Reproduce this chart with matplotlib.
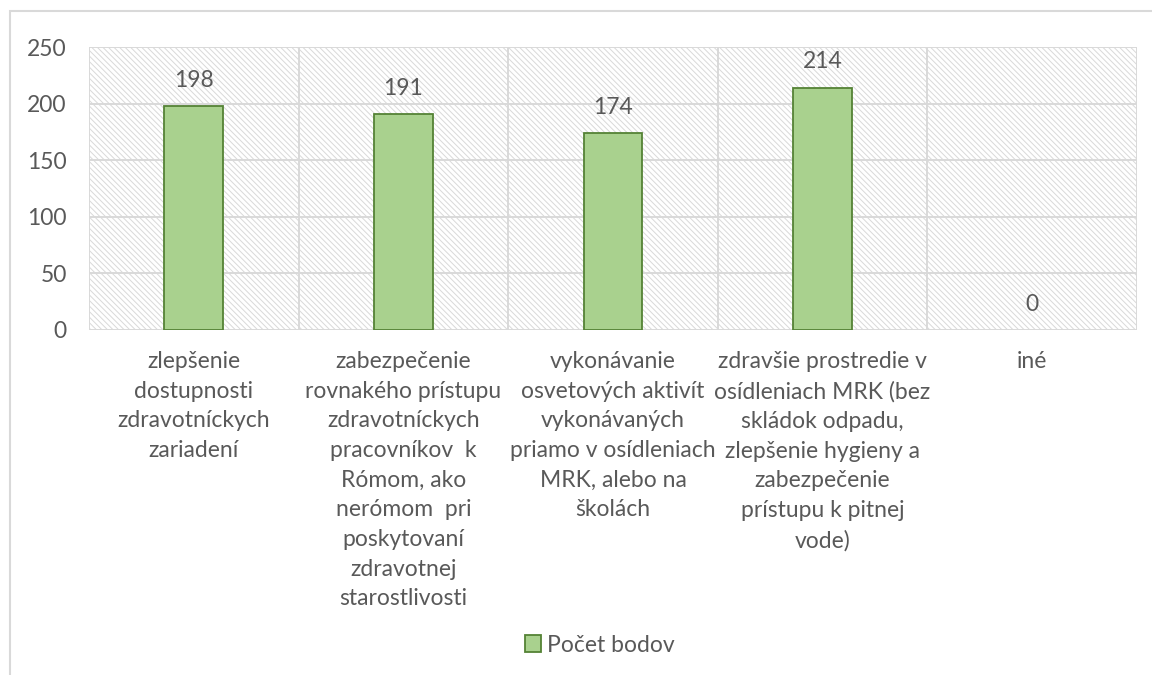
import matplotlib
matplotlib.use("Agg")
import matplotlib.pyplot as plt
from matplotlib.patches import Rectangle, Patch

categories = [
    "zlepšenie\ndostupnosti\nzdravotníckych\nzariadení",
    "zabezpečenie\nrovnakého prístupu\nzdravotníckych\npracovníkov  k\nRómom, ako\nnerómom  pri\nposkytovaní\nzdravotnej\nstarostlivosti",
    "vykonávanie\nosvetových aktivít\nvykonávaných\npriamo v osídleniach\nMRK, alebo na\nškolách",
    "zdravšie prostredie v\nosídleniach MRK (bez\nskládok odpadu,\nzlepšenie hygieny a\nzabezpečenie\nprístupu k pitnej\nvode)",
    "iné",
]
values = [198, 191, 174, 214, 0]
series_name = "Počet bodov"
yticks = [0, 50, 100, 150, 200, 250]

plt.rcParams['font.family'] = ['Lato', 'DejaVu Sans']
plt.rcParams['hatch.color'] = '#d9d9d9'
plt.rcParams['hatch.linewidth'] = 0.7
txt = '#595959'
grid = '#d9d9d9'
bar_face = '#a9d18e'
bar_edge = '#548235'
fs = 16.5

fig = plt.figure(figsize=(11.52, 6.75), dpi=100)
# outer chart border (left and top visible)
fig.patches.append(Rectangle((10/1152, -0.1), 1.2, 1 - 11/675 + 0.1, transform=fig.transFigure,
                             fill=False, edgecolor='#d9d9d9', lw=1.5))

ax = fig.add_axes([89/1152, 1 - 330/675, 1048/1152, 283/675])
ax.set_xlim(-0.5, len(categories) - 0.5)
ax.set_ylim(0, 250)

# hatched background
ax.add_patch(Rectangle((0, 0), 1, 1, transform=ax.transAxes, facecolor='white',
                       hatch='\\\\\\\\\\\\', edgecolor='#d9d9d9', lw=0, zorder=0))

for y in yticks:
    ax.axhline(y, color=grid, lw=1.4, zorder=1)
for i in range(len(categories) + 1):
    ax.axvline(i - 0.5, color=grid, lw=1.4, zorder=1)

x = list(range(len(categories)))
lws = [1.3 if v > 0 else 0 for v in values]
bars = ax.bar(x, values, width=0.28, color=bar_face, edgecolor=bar_edge, linewidth=lws, zorder=3,
              label=series_name)
for xi, v in zip(x, values):
    ax.annotate(str(v), (xi, v), xytext=(0, 11), textcoords='offset points',
                ha='center', va='bottom', fontsize=fs, color=txt)

for s in ax.spines.values():
    s.set_visible(False)
ax.set_yticks(yticks)
ax.set_yticklabels([str(t) for t in yticks], fontsize=fs, color=txt)
ax.set_xticks(x)
ax.set_xticklabels(categories, fontsize=fs, color=txt, linespacing=1.51, va='top')
ax.tick_params(axis='both', length=0)
ax.tick_params(axis='x', pad=15)
ax.tick_params(axis='y', pad=16)

handle = Patch(facecolor=bar_face, edgecolor=bar_edge, lw=1.3)
fig.legend([handle], [series_name], loc='center', bbox_to_anchor=(600/1152, 1 - 645/675),
           frameon=False, fontsize=fs, labelcolor=txt, handlelength=0.7, handleheight=0.7,
           handletextpad=0.25)

fig.savefig('out.png', dpi=100, facecolor='white')
